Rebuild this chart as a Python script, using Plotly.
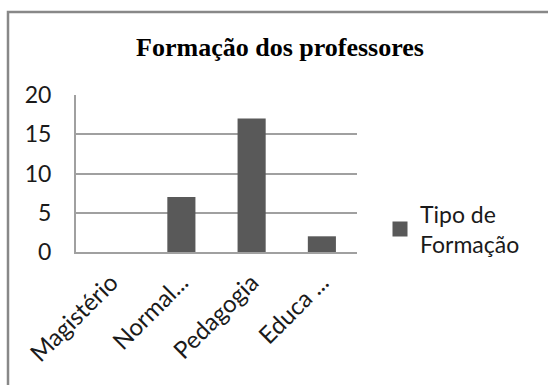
import plotly.graph_objects as go

categories = ["Magistério", "Normal...", "Pedagogia", "Educa ..."]
values = [0, 7, 17, 2]
series_name = "Tipo de<br>Formação"
title_text = "Formação dos professores"
y_ticks = [0, 5, 10, 15, 20]

W, H = 548, 385
L, R, T, B = 76, 191, 95, 133
pw = W - L - R
ph = H - T - B
BAR_COLOR = "#595959"

def px_x(x):
    return (x - L) / pw

def px_y(y):
    return (H - B - y) / ph

fig = go.Figure()
fig.add_trace(go.Bar(
    x=categories, y=values, name=series_name,
    marker=dict(color=BAR_COLOR, line=dict(width=0)),
    showlegend=False,
))
# legend entry with a larger square swatch
fig.add_trace(go.Scatter(
    x=[None], y=[None], mode="markers", name=series_name,
    marker=dict(symbol="square", size=15, color=BAR_COLOR),
    showlegend=True,
))

fig.update_layout(
    width=W, height=H,
    margin=dict(l=L, r=R, t=T, b=B, pad=0),
    paper_bgcolor="white", plot_bgcolor="white",
    bargap=0.6,
    title=dict(text="<b>" + title_text + "</b>", x=280 / W, xanchor="center",
               y=1 - 47 / H, yanchor="middle", yref="container",
               font=dict(family="Liberation Serif", size=26, color="black")),
    font=dict(family="Lato", color="black"),
    showlegend=True,
    legend=dict(x=px_x(380), y=px_y(229), xanchor="left", yanchor="middle",
                font=dict(family="Lato", size=23, color="#1a1a1a"),
                bgcolor="rgba(0,0,0,0)", borderwidth=0, itemwidth=30),
    xaxis=dict(showline=True, linecolor="#a0a0a0", linewidth=2,
               tickangle=-45, tickfont=dict(family="Lato", size=24, color="#1a1a1a"),
               showgrid=False, ticks="", ticklabelstandoff=5),
    yaxis=dict(range=[0, 20], tickvals=y_ticks, showline=True, linecolor="#a0a0a0",
               linewidth=2, showgrid=True, gridcolor="#a0a0a0", gridwidth=1.5,
               zeroline=False, ticks="", ticklabelstandoff=18,
               tickfont=dict(family="Lato", size=23, color="#1a1a1a")),
    shapes=[dict(type="rect", xref="paper", yref="paper",
                 x0=px_x(8), x1=px_x(570), y0=px_y(420), y1=px_y(12),
                 line=dict(color="#888888", width=2.5), fillcolor="rgba(0,0,0,0)",
                 layer="below")],
)

fig.write_html("out.html")
